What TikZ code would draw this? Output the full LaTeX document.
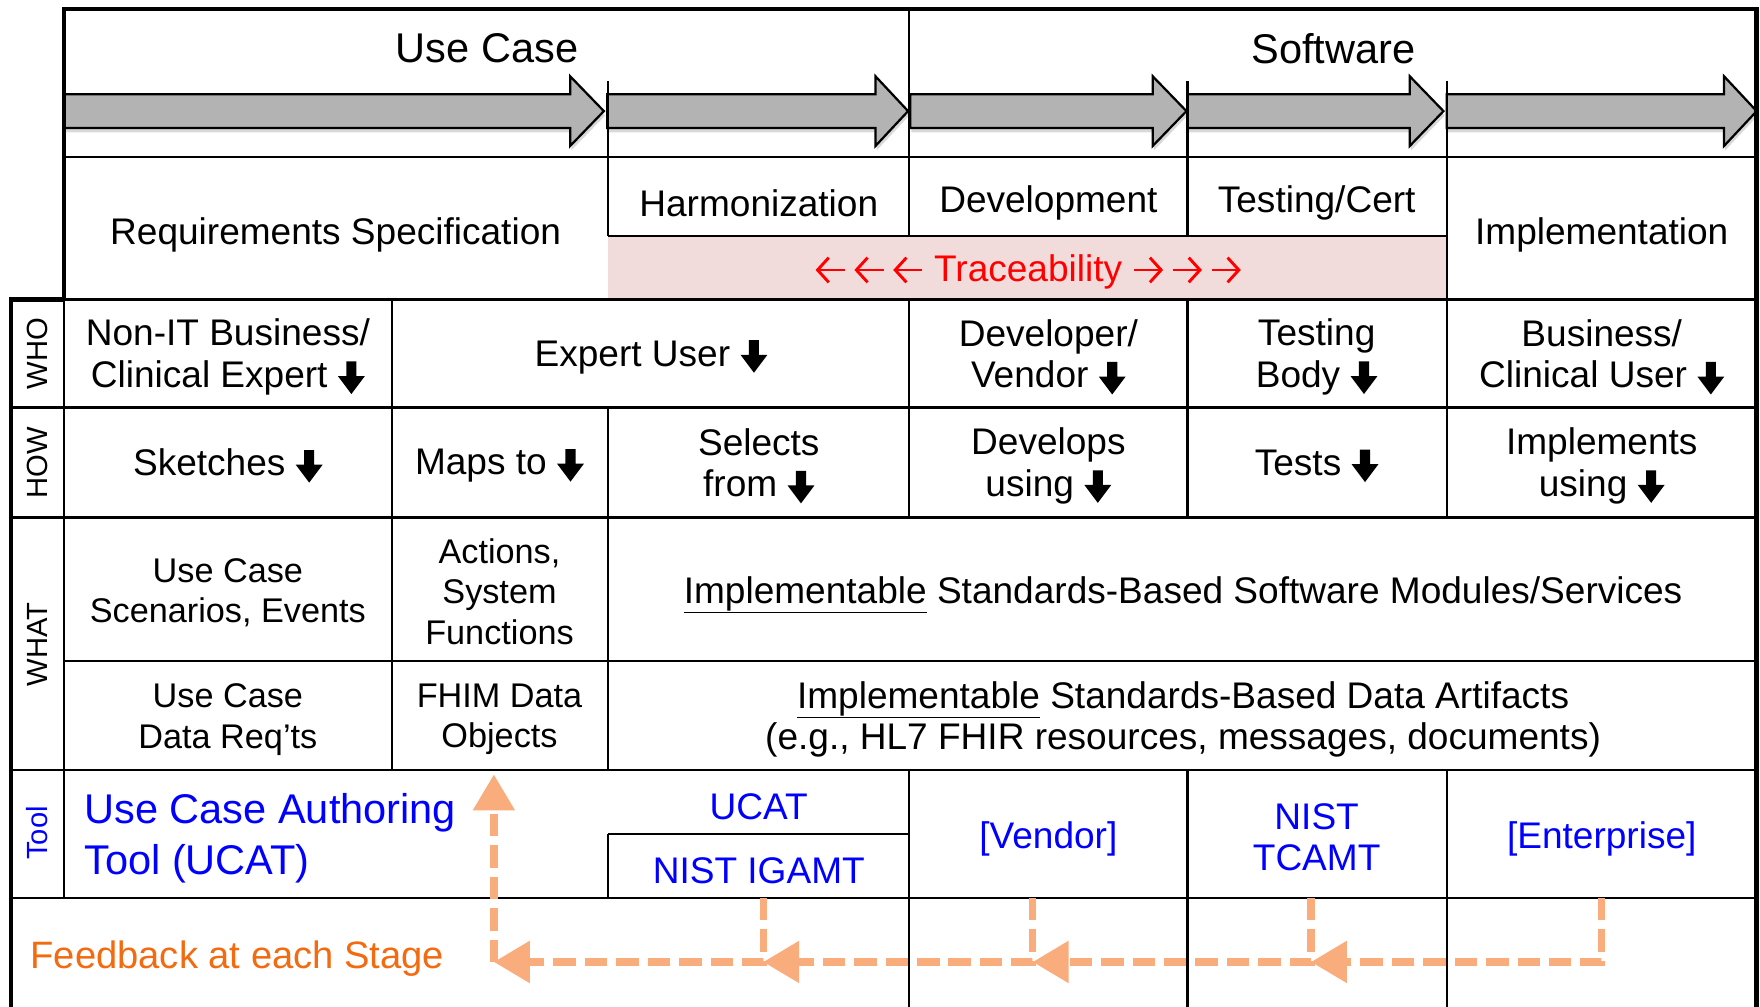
\documentclass[tikz,border=0pt]{standalone}
\usepackage{fontspec}
\setmainfont{Liberation Sans}
\usetikzlibrary{arrows.meta,shadows}
\definecolor{stagegray}{HTML}{B3B3B3}
\definecolor{tracepink}{HTML}{F2DCDB}
\definecolor{fbline}{HTML}{F9AC7C}
\definecolor{fbtext}{HTML}{F26B10}
\newcommand{\dn}{\tikz[baseline=0pt]\fill (-4.5pt,23pt) -- (4.5pt,23pt) -- (4.5pt,10pt) -- (12pt,10pt) -- (0pt,-6pt) -- (-12pt,10pt) -- (-4.5pt,10pt) -- cycle;}
\newcommand{\larr}{\tikz[baseline=-10pt]\draw[red, line width=2.6pt, {Straight Barb[length=10pt,width=22pt]}-] (0pt,0pt) -- (26pt,0pt);}
\newcommand{\rarr}{\tikz[baseline=-10pt]\draw[red, line width=2.6pt, -{Straight Barb[length=10pt,width=22pt]}] (0pt,0pt) -- (26pt,0pt);}
\newcommand{\lt}{\larr\kern6pt\larr\kern6pt\larr}
\newcommand{\rt}{\rarr\kern6pt\rarr\kern6pt\rarr}

\tikzset{
  frame/.style={line width=4pt},
  grid/.style={line width=2pt},
  stage/.style={draw=black, line width=2pt, fill=stagegray, line join=miter,
    drop shadow={shadow xshift=1pt, shadow yshift=-4pt, opacity=0.3}},
  head/.style={font=\fontsize{37}{40}\selectfont},
  cell/.style={align=center, font=\fontsize{33}{37}\selectfont},
  small/.style={align=center, font=\fontsize{30.5}{36}\selectfont},
  side/.style={rotate=90, font=\fontsize{26}{28}\selectfont},
  toolcell/.style={cell, text=blue},
  fb/.style={draw=fbline, line width=6.5pt, dash pattern=on 20pt off 8pt,
    -{Triangle[length=32pt,width=36pt]}},
}

\begin{document}
\begin{tikzpicture}[x=1pt,y=-1pt]
  \useasboundingbox (0,0) rectangle (1568,897);

  \fill[tracepink] (542,210) rectangle (1289,267);

  \draw[stage] (57,84) -- (508,84) -- (508,68) -- (538,99) -- (508,130) -- (508,114) -- (57,114) -- cycle;
  \draw[stage] (541,84) -- (780,84) -- (780,68) -- (809,99) -- (780,130) -- (780,114) -- (541,114) -- cycle;
  \draw[stage] (811,84) -- (1027,84) -- (1027,68) -- (1057,99) -- (1027,130) -- (1027,114) -- (811,114) -- cycle;
  \draw[stage] (1058,84) -- (1256,84) -- (1256,68) -- (1286,99) -- (1256,130) -- (1256,114) -- (1058,114) -- cycle;
  \draw[stage] (1289,84) -- (1536,84) -- (1536,68) -- (1565,99) -- (1536,130) -- (1536,114) -- (1289,114) -- cycle;

  \draw[grid] (57,140) -- (1565,140);
  \draw[grid] (542,210) -- (1289,210);
  \draw[line width=3pt] (10,267) -- (1565,267);
  \draw[grid] (10,363) -- (1565,363);
  \draw[grid] (10,461) -- (1565,461);
  \draw[grid] (57,589) -- (1565,589);
  \draw[grid] (10,686) -- (1565,686);
  \draw[grid] (542,743) -- (810,743);
  \draw[grid] (10,800) -- (1565,800);

  \draw[grid] (57,267) -- (57,800);
  \draw[grid] (349,267) -- (349,686);
  \draw[grid] (542,72) -- (542,210);
  \draw[grid] (542,363) -- (542,686);
  \draw[grid] (542,743) -- (542,800);
  \draw[grid] (810,8) -- (810,210);
  \draw[grid] (810,267) -- (810,461);
  \draw[grid] (810,686) -- (810,897);
  \draw[grid] (1058,72) -- (1058,210);
  \draw[grid] (1058,267) -- (1058,461);
  \draw[grid] (1058,686) -- (1058,897);
  \draw[grid] (1289,72) -- (1289,461);
  \draw[grid] (1289,686) -- (1289,897);

  \draw[frame] (57,267) -- (57,8) -- (1565,8) -- (1565,897);
  \draw[frame] (10,897) -- (10,267) -- (57,267);

  \node[head] (usecase) at (434,43) {Use Case};
  \node[head] (software) at (1188,43) {Software};

  \node[cell] (reqspec) at (299,209) {Requirements Specification};
  \node[cell] (harmon) at (676,181) {Harmonization};
  \node[cell] (devel) at (934,181) {Development};
  \node[cell] (testcert) at (1173,181) {Testing/Cert};
  \node[cell] (implem) at (1427,209) {Implementation};
  \node[cell, text=red] (trace) at (916,242) {\lt{} Traceability \rt};

  \node[side] (who) at (33,315) {WHO};
  \node[side] (how) at (33,412) {HOW};
  \node[side] (what) at (33,574) {WHAT};
  \node[side, text=blue] (tool) at (33,742) {Tool};

  \node[cell] (nonit) at (203,318) {Non-IT Business/\\Clinical Expert \dn};
  \node[cell] (expert) at (580,318) {Expert User \dn};
  \node[cell] (devvend) at (934,318) {Developer/\\Vendor \dn};
  \node[cell] (testbody) at (1173,318) {Testing\\Body \dn};
  \node[cell] (bizuser) at (1427,318) {Business/\\Clinical User \dn};

  \node[cell] (sketch) at (203,415) {Sketches \dn};
  \node[cell] (maps) at (445,415) {Maps to \dn};
  \node[cell] (selects) at (676,415) {Selects\\from \dn};
  \node[cell] (develops) at (934,415) {Develops\\using \dn};
  \node[cell] (tests) at (1173,415) {Tests \dn};
  \node[cell] (implements) at (1427,415) {Implements\\using \dn};

  \node[small] (scenarios) at (203,528) {Use Case\\Scenarios, Events};
  \node[small] (actions) at (445,527) {Actions,\\System\\Functions};
  \node[cell] (modules) at (1054,530) {\underline{Implementable} Standards-Based Software Modules/Services};
  \node[small] (datareq) at (203,641) {Use Case\\Data Req’ts};
  \node[small] (fhim) at (445,641) {FHIM Data\\Objects};
  \node[cell] (artifacts) at (1054,641) {\underline{Implementable} Standards-Based Data Artifacts\\(e.g., HL7 FHIR resources, messages, documents)};

  \node[toolcell, font=\fontsize{37}{45}\selectfont, align=left, anchor=west, inner sep=0pt] (ucatlong) at (75,747) {Use Case Authoring\\Tool (UCAT)};
  \node[toolcell] (ucat) at (676,719) {UCAT};
  \node[toolcell] (igamt) at (676,776) {NIST IGAMT};
  \node[toolcell] (vendor) at (934,747) {[Vendor]};
  \node[toolcell] (tcamt) at (1173,746) {NIST\\TCAMT};
  \node[toolcell] (enterprise) at (1427,747) {[Enterprise]};

  \node[font=\fontsize{34}{40}\selectfont, text=fbtext, anchor=west, inner sep=0pt] (feedback) at (27,854) {Feedback at each Stage};

  \coordinate (fbA) at (1427,800);
  \coordinate (fbB) at (1168,800);
  \coordinate (fbC) at (920,800);
  \coordinate (fbD) at (680,800);
  \coordinate (jB) at (1168,857);
  \coordinate (jC) at (920,857);
  \coordinate (jD) at (680,857);
  \coordinate (jE) at (440,857);
  \coordinate (upE) at (440,690);
  \draw[fb] (fbA) |- (jB);
  \draw[fb] (fbB) |- (jC);
  \draw[fb] (fbC) |- (jD);
  \draw[fb] (fbD) |- (jE);
  \draw[fb] (jE) -- (upE);
\end{tikzpicture}
\end{document}
